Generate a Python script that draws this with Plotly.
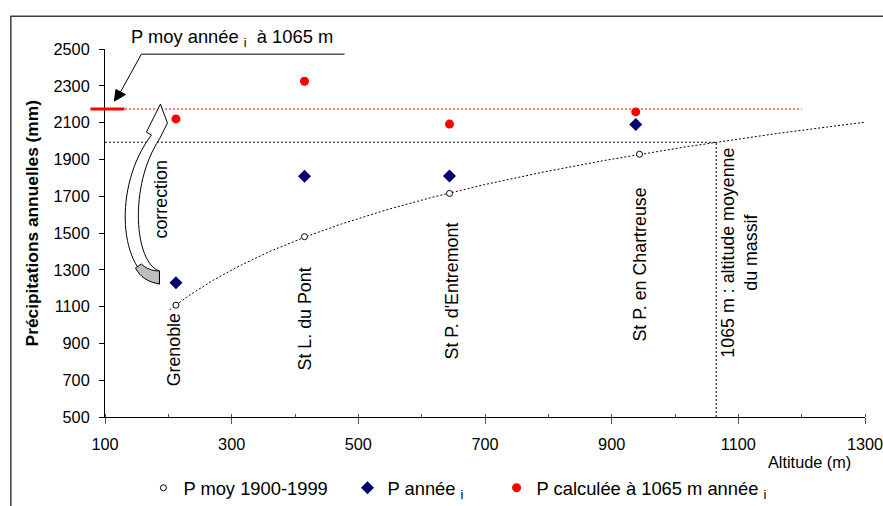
import numpy as np
import plotly.graph_objects as go

# ---------------- data ----------------
stations = ["Grenoble", "St L. du Pont", "St P. d'Entremont", "St P. en Chartreuse"]
alt_moy = [212, 415, 644, 944]          # altitude of the 1900-1999 mean points (m)
p_moy = [1108, 1480, 1715, 1928]        # P moy 1900-1999 (mm)
alt_annee = [212, 415, 644, 938]        # altitude of the stations (m)
p_annee = [1230, 1808, 1810, 2090]      # P année i (mm)
p_calc = [2120, 2325, 2092, 2158]       # P calculée à 1065 m année i (mm)
alt_massif = 1065                       # altitude moyenne du massif (m)
x_tickvals = [100, 300, 500, 700, 900, 1100, 1300]
y_tickvals = [500, 700, 900, 1100, 1300, 1500, 1700, 1900, 2100, 2300, 2500]

# ---------------- geometry ----------------
W, H = 895, 518
KX, KY = 883 / W, 506 / H
S = (1 / KX + 1 / KY) / 2
FONT = "Liberation Sans, Arial, sans-serif"


def fx(x):
    return x / KX


def fy(y):
    return y / KY


ML = round(fx(104))
MR = round(W - fx(863))
MT = round(fy(47.7))
MB = round(H - fy(416))
PW, PH = W - ML - MR, H - MT - MB


def px(x):
    return (fx(x) - ML) / PW


def py(y):
    return (H - MB - fy(y)) / PH


def fs(v):
    return round(v * S, 2)


# logarithmic trend line (Excel-style regression on the mean points)
a, b = np.polyfit(np.log(alt_moy), p_moy, 1)
trend_x = np.linspace(202, 1300, 300)
trend_y = a * np.log(trend_x) + b
p_massif = a * np.log(alt_massif) + b
p_calc_mean = float(np.mean(p_calc))

fig = go.Figure()

DOT = "2px,2px"
fig.add_trace(go.Scatter(x=trend_x, y=trend_y, mode="lines",
                         line=dict(color="black", width=1, dash=DOT),
                         showlegend=False, hoverinfo="skip"))
fig.add_trace(go.Scatter(x=[100, alt_massif], y=[p_massif, p_massif], mode="lines",
                         line=dict(color="black", width=1, dash=DOT),
                         showlegend=False, hoverinfo="skip"))
fig.add_trace(go.Scatter(x=[alt_massif, alt_massif], y=[500, p_massif], mode="lines",
                         line=dict(color="black", width=1, dash=DOT),
                         showlegend=False, hoverinfo="skip"))
fig.add_trace(go.Scatter(x=[100, 1200], y=[p_calc_mean, p_calc_mean], mode="lines",
                         line=dict(color="red", width=1, dash=DOT),
                         showlegend=False, hoverinfo="skip"))

fig.add_trace(go.Scatter(x=alt_moy, y=p_moy, mode="markers", name="P moy 1900-1999",
                         marker=dict(symbol="circle", size=6, color="white",
                                     line=dict(color="black", width=1)),
                         legend="legend"))
fig.add_trace(go.Scatter(x=alt_annee, y=p_annee, mode="markers", name="P année <sub>i</sub>",
                         marker=dict(symbol="diamond", size=10, color="#000070"),
                         legend="legend2"))
fig.add_trace(go.Scatter(x=alt_annee, y=p_calc, mode="markers",
                         name="P calculée à 1065 m année <sub>i</sub>",
                         marker=dict(symbol="circle", size=9, color="#ff0000"),
                         legend="legend3"))

# ---------------- shapes ----------------
shapes = []
# outer frame
shapes.append(dict(type="rect", xref="paper", yref="paper",
                   x0=px(9.5), x1=px(910), y0=py(15), y1=py(540),
                   line=dict(color="#404040", width=1.5)))
# red solid marker of the mean value at 1065 m
shapes.append(dict(type="line", xref="paper", yref="y",
                   x0=px(89), x1=px(123), y0=p_calc_mean, y1=p_calc_mean,
                   line=dict(color="red", width=3)))
# underline of the top label and pointer line
shapes.append(dict(type="line", xref="paper", yref="paper",
                   x0=px(140), x1=px(343), y0=py(53), y1=py(53),
                   line=dict(color="black", width=1)))
shapes.append(dict(type="line", xref="paper", yref="paper",
                   x0=px(140), x1=px(119), y0=py(53), y1=py(91),
                   line=dict(color="black", width=1)))


def path(cmds):
    out = []
    for c in cmds:
        if isinstance(c, str):
            out.append(c)
        else:
            out.append(f"{px(c[0]):.5f},{py(c[1]):.5f}")
    return " ".join(out)


# arrow head of the pointer
shapes.append(dict(type="path", xref="paper", yref="paper",
                   path=path(["M", (113, 100), "L", (114.5, 88.5), "L", (124, 93.5), "Z"]),
                   fillcolor="black", line=dict(color="black", width=1)))

# curved "correction" block arrow
arrow_path = path(["M", (158, 283), "C", (117, 272), (111, 185), (150, 134),
                   "L", (145, 131), "L", (159, 103), "L", (166, 122), "L", (158, 138),
                   "C", (127, 185), (133, 262), (158, 270), "Z"])
shapes.append(dict(type="path", xref="paper", yref="paper", path=arrow_path,
                   fillcolor="white", line=dict(color="black", width=1)))
tail_path = path(["M", (158, 283), "C", (146, 281), (139, 276), (134, 267),
                  "L", (140, 263), "C", (144, 267), (150, 270), (158, 270), "Z"])
shapes.append(dict(type="path", xref="paper", yref="paper", path=tail_path,
                   fillcolor="#bdbdbd", line=dict(color="black", width=1)))

# ---------------- annotations ----------------
ann = []
TXT = dict(family=FONT, size=fs(17.5), color="black")
label_y = [349, 318, 290, 264]
for name, xv, ly in zip(stations, [172, 303, 450, 638], label_y):
    ann.append(dict(text=name, xref="paper", yref="paper", x=px(xv), y=py(ly),
                    textangle=-90, showarrow=False, font=TXT,
                    xanchor="center", yanchor="middle"))
ann.append(dict(text="1065 m : altitude moyenne<br>du massif", xref="paper", yref="paper",
                x=px(738), y=py(252), textangle=-90, showarrow=False, font=TXT,
                xanchor="center", yanchor="middle"))
ann.append(dict(text="correction", xref="paper", yref="paper", x=px(160), y=py(198),
                textangle=-90, showarrow=False, font=TXT,
                xanchor="center", yanchor="middle"))
ann.append(dict(text="P moy année <sub>i</sub>  à 1065 m", xref="paper", yref="paper",
                x=px(231), y=py(37), showarrow=False,
                font=dict(family=FONT, size=fs(18), color="black"),
                xanchor="center", yanchor="middle"))
ann.append(dict(text="Précipitations annuelles (mm)", xref="paper", yref="paper",
                x=px(31), y=py(222), textangle=-90, showarrow=False,
                font=dict(family=FONT, size=fs(17), color="black", weight="bold"),
                xanchor="center", yanchor="middle"))
ann.append(dict(text="Altitude (m)", xref="paper", yref="paper",
                x=px(851), y=py(461), showarrow=False,
                font=dict(family=FONT, size=fs(16), color="black"),
                xanchor="right", yanchor="middle"))

LEG = dict(orientation="h", xanchor="left", yanchor="middle", y=py(487),
           font=dict(family=FONT, size=fs(18), color="black"),
           bgcolor="rgba(0,0,0,0)", borderwidth=0)

fig.update_layout(
    width=W, height=H,
    margin=dict(l=ML, r=MR, t=MT, b=MB),
    paper_bgcolor="white", plot_bgcolor="white",
    font=dict(family=FONT, size=fs(16), color="black"),
    shapes=shapes, annotations=ann,
    legend=dict(LEG, x=px(142)),
    legend2=dict(LEG, x=px(346)),
    legend3=dict(LEG, x=px(495)),
    xaxis=dict(range=[100, 1300], tickvals=x_tickvals, showgrid=False, zeroline=False,
               showline=True, linecolor="black", linewidth=1,
               ticks="outside", ticklen=6, tickcolor="#555", ticklabelstandoff=6,
               minor=dict(ticks="inside", ticklen=3, dtick=100, tickcolor="#555",
                          showgrid=False),
               tickfont=dict(family=FONT, size=fs(16))),
    yaxis=dict(range=[500, 2500], tickvals=y_tickvals, showgrid=False, zeroline=False,
               showline=True, linecolor="black", linewidth=1,
               ticks="outside", ticklen=5, tickcolor="black", ticklabelstandoff=6,
               tickfont=dict(family=FONT, size=fs(16))),
)

fig.write_html("out.html", config={"displayModeBar": False},
               post_script="document.body.style.margin='0';")
